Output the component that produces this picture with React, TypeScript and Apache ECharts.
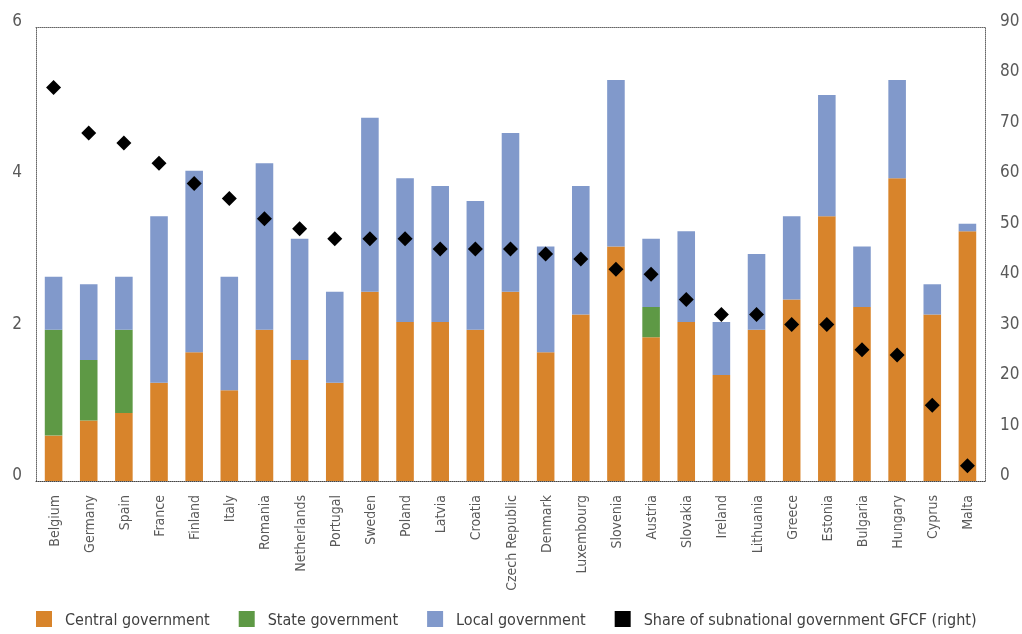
import React, { useEffect, useRef } from "react";
import * as echarts from "echarts";

const countries = [
  "Belgium", "Germany", "Spain", "France", "Finland", "Italy", "Romania", "Netherlands",
  "Portugal", "Sweden", "Poland", "Latvia", "Croatia", "Czech Republic", "Denmark",
  "Luxembourg", "Slovenia", "Austria", "Slovakia", "Ireland", "Lithuania", "Greece",
  "Estonia", "Bulgaria", "Hungary", "Cyprus", "Malta",
];
const central = [0.6, 0.8, 0.9, 1.3, 1.7, 1.2, 2.0, 1.6, 1.3, 2.5, 2.1, 2.1, 2.0, 2.5, 1.7, 2.2, 3.1, 1.9, 2.1, 1.4, 2.0, 2.4, 3.5, 2.3, 4.0, 2.2, 3.3];
const state = [1.4, 0.8, 1.1, 0, 0, 0, 0, 0, 0, 0, 0, 0, 0, 0, 0, 0, 0, 0.4, 0, 0, 0, 0, 0, 0, 0, 0, 0];
const local = [0.7, 1.0, 0.7, 2.2, 2.4, 1.5, 2.2, 1.6, 1.2, 2.3, 1.9, 1.8, 1.7, 2.1, 1.4, 1.7, 2.2, 0.9, 1.2, 0.7, 1.0, 1.1, 1.6, 0.8, 1.3, 0.4, 0.1];
const share = [78, 69, 67, 63, 59, 56, 52, 50, 48, 48, 48, 46, 46, 46, 45, 44, 42, 41, 36, 33, 33, 31, 31, 26, 25, 15, 3];
const leftTicks = [0, 6, 2];
const rightTicks = [0, 90, 10];

const FONT = "'Liberation Sans Narrow', 'DejaVu Sans Condensed', sans-serif";
const GRAY = "#595959";

export default function App() {
  const ref = useRef<HTMLDivElement>(null);
  useEffect(() => {
    if (!ref.current) return;
    const chart = echarts.init(ref.current, null, { renderer: "svg" });
    const dotted = { show: true, onZero: false, lineStyle: { color: "#666", type: "dotted", width: 1 } };
    const yLabel = {
      fontFamily: FONT,
      fontSize: 17,
      color: GRAY,
      verticalAlign: "bottom",
      lineHeight: 14,
    };
    chart.setOption({
      animation: false,
      grid: { left: 36, right: 37, top: 27, bottom: 153, outerBoundsMode: "none" },
      legend: {
        left: 31,
        top: 606,
        itemWidth: 16,
        itemHeight: 16,
        itemGap: 29,
        icon: "rect",
        textStyle: { fontFamily: FONT, fontSize: 16, color: "#404040", padding: [0, 0, 0, 8] },
        data: [
          "Central government",
          "State government",
          "Local government",
          { name: "Share of subnational government GFCF (right)", icon: "rect" },
        ],
      },
      xAxis: [
        {
          type: "category",
          data: countries,
          axisLine: { show: true, onZero: false, lineStyle: { color: "#444", type: "dotted", width: 1 } },
          axisTick: { show: false },
          axisLabel: { rotate: 90, interval: 0, margin: 14, fontFamily: FONT, fontSize: 14, color: GRAY },
        },
        {
          type: "category",
          data: countries,
          position: "top",
          axisLine: dotted,
          axisTick: { show: false },
          axisLabel: { show: false },
        },
      ],
      yAxis: [
        {
          type: "value",
          min: leftTicks[0],
          max: leftTicks[1],
          interval: leftTicks[2],
          axisLine: dotted,
          axisTick: { show: false },
          splitLine: { show: false },
          axisLabel: { ...yLabel, margin: 14 },
        },
        {
          type: "value",
          min: rightTicks[0],
          max: rightTicks[1],
          interval: rightTicks[2],
          position: "right",
          axisLine: dotted,
          axisTick: { show: false },
          splitLine: { show: false },
          axisLabel: { ...yLabel, margin: 15 },
        },
      ],
      series: [
        { name: "Central government", type: "bar", stack: "g", data: central, barWidth: "50%", itemStyle: { color: "#D8842B" } },
        { name: "State government", type: "bar", stack: "g", data: state, barWidth: "50%", itemStyle: { color: "#5E9945" } },
        { name: "Local government", type: "bar", stack: "g", data: local, barWidth: "50%", itemStyle: { color: "#8199CB" } },
        {
          name: "Share of subnational government GFCF (right)",
          type: "scatter",
          yAxisIndex: 1,
          data: share,
          symbol: "diamond",
          symbolSize: 15,
          itemStyle: { color: "#000", opacity: 1 },
          z: 5,
        },
      ],
    });
    return () => chart.dispose();
  }, []);
  return <div ref={ref} style={{ position: "fixed", left: 0, top: 0, width: 1022, height: 634 }} />;
}
